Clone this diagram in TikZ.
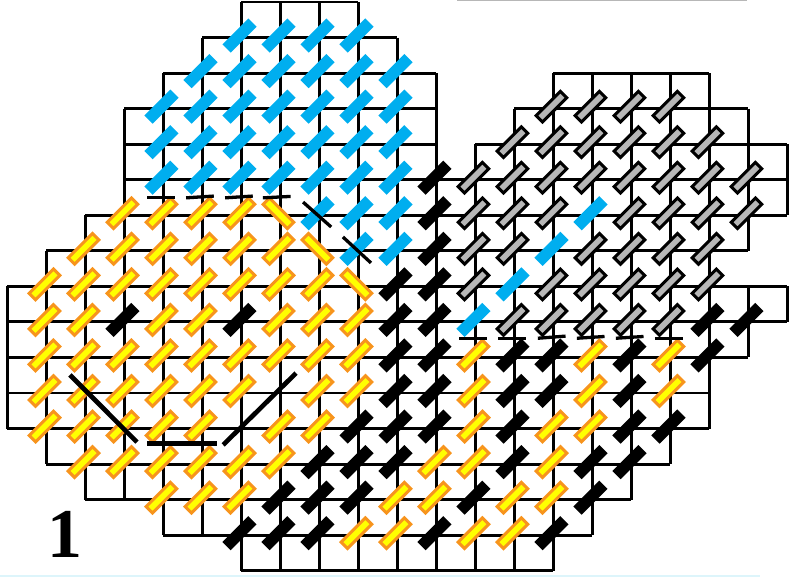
\documentclass[tikz,border=0pt]{standalone}
\usepackage{fontspec}
\setmainfont{Liberation Serif}
\definecolor{brickblue}{HTML}{00AEEF}
\definecolor{brickorange}{HTML}{F7941D}
\definecolor{brickyellow}{HTML}{FFFF00}
\definecolor{brickgray}{HTML}{B7B7B7}
\definecolor{edgecyan}{HTML}{DDF5FB}
\tikzset{
    gridline/.style={line width=2.1pt},
    cutline/.style={line width=2.4pt},
    brick/.style={rectangle,inner sep=0pt,outer sep=0pt,rotate=45,minimum width=0.94cm,minimum height=0.3cm},
    bluebrick/.style={brick,fill=brickblue},
    blackbrick/.style={brick,fill=black},
    yellowbrick/.style={brick,minimum width=0.88cm,minimum height=0.23cm,fill=brickyellow,draw=brickorange,line width=2.2pt},
    graybrick/.style={brick,minimum width=0.88cm,minimum height=0.23cm,fill=brickgray,draw=black,line width=2.2pt}
}
\begin{document}
\begin{tikzpicture}[x=1cm,y=-0.9115cm]
    \useasboundingbox (-0.192,-0.056) rectangle (20.04,16.17);
    \draw [line width=1pt,brickgray] (11.53,-0.045) -- (18.96,-0.045);
    \draw [line width=1.2pt,edgecyan] (-0.192,16.15) -- (19.3,16.15);
    \foreach \j/\a/\b in {0/6/9,1/5/10,2/4/11,2/14/18,3/3/11,3/13/19,4/3/11,4/12/20,5/3/20,6/2/20,7/1/19,8/0/20,9/0/20,10/0/19,11/0/18,12/0/18,13/1/17,14/2/16,15/4/15,16/6/14}
    {
    \draw [gridline,line cap=square] (\a,\j) -- (\b,\j);
    }
    \foreach \k/\a/\b in {0/8/12,1/7/13,2/6/14,3/3/14,4/2/15,5/1/15,6/0/16,7/0/16,8/0/16,9/0/16,10/1/16,11/2/16,12/4/16,13/3/16,14/2/16,15/2/15,16/2/14,17/2/13,18/2/12,19/3/7,19/8/10,20/4/6,20/8/9}
    {
    \draw [gridline,line cap=square] (\k,\a) -- (\k,\b);
    }
    \begin{scope}[shift={(-0.051,-0.056)}]
    \foreach \j/\cols in {1/{6,...,9},2/{5,...,10},3/{4,...,10},4/{4,...,10},5/{4,...,10},6/{8,9,10,15},7/{9,10,14},8/{13},9/{12}}
    {
    \foreach \k in \cols {\node [bluebrick] (b\j-\k) at (\k,\j) {};}
    }
    \foreach \j/\cols in {3/{14,...,17},4/{13,...,18},5/{12,...,19},6/{12,13,14,16,17,18,19},7/{12,13,15,16,17,18},8/{12,14,15,16,17,18},9/{13,...,17}}
    {
    \foreach \k in \cols {\node [graybrick] (g\j-\k) at (\k,\j) {};}
    }
    \foreach \j/\cols in {5/{11},6/{11},7/{11},8/{10,11},9/{3,6,10,11,18,19},10/{10,11,13,14,16,18},11/{10,11,13,14,16},12/{9,10,11,13,16,17},13/{8,9,10,13,15,16},14/{7,8,9,12,15},15/{6,7,8,11,14}}
    {
    \foreach \k in \cols {\node [blackbrick] (k\j-\k) at (\k,\j) {};}
    }
    \foreach \j/\cols in {6/{3,...,6},7/{2,...,7},8/{1,...,8},9/{1,2,4,5,7,8,9},10/{1,...,9,12,15,17},11/{1,...,6,8,9,12,15,17},12/{1,...,5,7,8,12,14,15},13/{2,...,7,11,12,14},14/{4,5,6,10,11,13,14},15/{9,10,12,13}}
    {
    \foreach \k in \cols {\node [yellowbrick] (y\j-\k) at (\k,\j) {};}
    }
    \foreach \j/\k in {6/7,7/8,8/9}
    {
    \node [yellowbrick,rotate=-90] (s\j-\k) at (\k,\j) {};
    }
    \end{scope}
    \foreach \x/\d in {3.58/0,4.58/-0.05,5.58/-0.05,6.55/-0.04}
    {
    \draw [cutline] (\x,5.51) -- +(0.71,\d);
    }
    \foreach \x/\d in {11.58/0,12.58/0,13.6/-0.06,14.6/-0.05,15.6/-0.05,16.6/0}
    {
    \draw [cutline] (\x,9.46) -- +(0.71,\d);
    }
    \draw [cutline] (7.58,5.63) -- (8.3,6.33);
    \draw [cutline] (8.6,6.61) -- (9.32,7.34);
    \draw [line width=3.4pt] (1.6,10.49) -- (3.32,12.38);
    \draw [line width=3.8pt] (3.58,12.43) -- (5.37,12.43);
    \draw [line width=3.4pt] (5.53,12.46) -- (7.4,10.44);
    \node (panel) at (1.47,14.98) {\fontsize{51}{51}\selectfont\bfseries 1};
\end{tikzpicture}
\end{document}
